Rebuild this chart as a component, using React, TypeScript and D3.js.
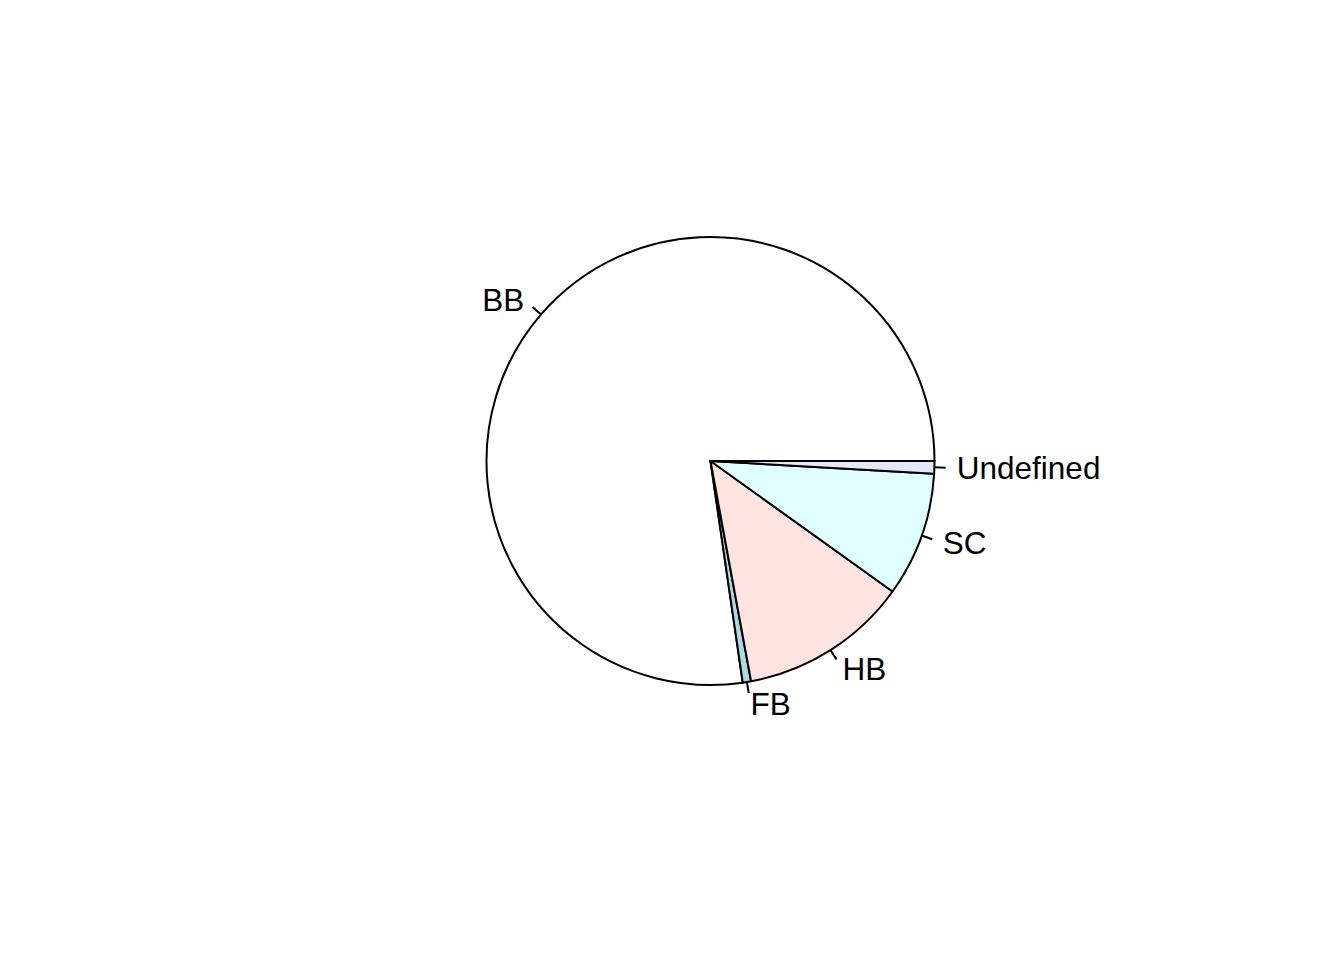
import { useEffect, useRef } from "react";
import * as d3 from "d3";

// slices in R pie order (counterclockwise from 3 o'clock)
const categories = ["BB", "FB", "HB", "SC", "Undefined"];
const counts = [773, 6, 122, 90, 9];
const colors = ["#FFFFFF", "#ADD8E6", "#FFE4E1", "#E0FFFF", "#E6E6FA"];

export default function App() {
  const ref = useRef<SVGSVGElement>(null);
  const width = 1344;
  const height = 960;
  const cx = 710.5;
  const cy = 461;
  const radius = 224;

  useEffect(() => {
    if (!ref.current) return;
    const svg = d3.select(ref.current);
    svg.selectAll("*").remove();

    const g = svg.append("g").attr("transform", `translate(${cx}, ${cy})`);

    // d3 angles are clockwise from 12 o'clock; R starts at 3 o'clock going counterclockwise
    const pie = d3.pie<number>()
      .sort(null)
      .value(d => d)
      .startAngle(Math.PI / 2)
      .endAngle(Math.PI / 2 - 2 * Math.PI);

    const arcs = pie(counts);
    const arc = d3.arc<d3.PieArcDatum<number>>().innerRadius(0).outerRadius(radius);

    g.selectAll(".slice")
      .data(arcs)
      .enter()
      .append("path")
      .attr("class", "slice")
      .attr("d", arc)
      .attr("fill", (d, i) => colors[i])
      .attr("stroke", "#000")
      .attr("stroke-width", 2)
      .attr("stroke-linejoin", "round");

    const mid = (d: d3.PieArcDatum<number>) => (d.startAngle + d.endAngle) / 2;
    const px = (d: d3.PieArcDatum<number>, r: number) => r * Math.sin(mid(d));
    const py = (d: d3.PieArcDatum<number>, r: number) => -r * Math.cos(mid(d));

    g.selectAll(".tick")
      .data(arcs)
      .enter()
      .append("line")
      .attr("x1", d => px(d, radius))
      .attr("y1", d => py(d, radius))
      .attr("x2", d => px(d, radius * 1.05))
      .attr("y2", d => py(d, radius * 1.05))
      .attr("stroke", "#000")
      .attr("stroke-width", 2);

    g.selectAll(".label")
      .data(arcs)
      .enter()
      .append("text")
      .attr("x", d => px(d, radius * 1.1))
      .attr("y", d => py(d, radius * 1.1))
      .attr("dy", "0.36em")
      .attr("text-anchor", d => (px(d, 1) < 0 ? "end" : "start"))
      .style("font-family", "'Liberation Sans', Arial, sans-serif")
      .style("font-size", "31.5px")
      .style("fill", "#000")
      .text((d, i) => categories[i]);
  }, []);

  return (
    <svg
      ref={ref}
      width={width}
      height={height}
      viewBox={`0 0 ${width} ${height}`}
      style={{ position: "absolute", left: 0, top: 0, background: "#fff" }}
    />
  );
}
